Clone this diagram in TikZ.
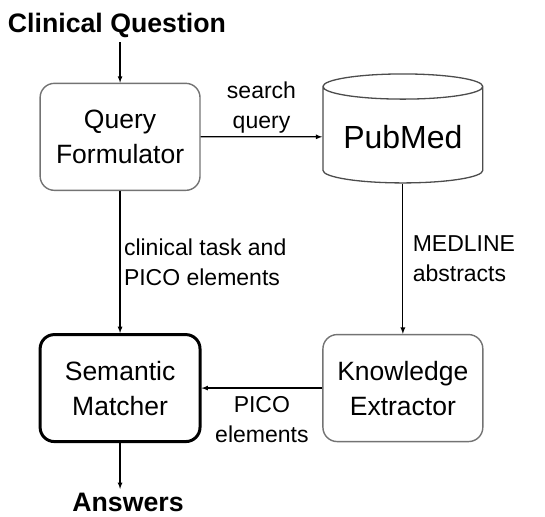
\documentclass[tikz,border=0pt]{standalone}
\usepackage{fontspec}
\setmainfont{Liberation Sans}
\usetikzlibrary{shapes.geometric,positioning}

\tikzset{
	module/.style={draw=black!55, line width=1.4pt, rounded corners=0.5cm,
		minimum width=5.62cm, minimum height=3.76cm, align=center,
		font=\fontsize{26.5}{35}\selectfont},
	core/.style={module, draw=black, line width=3pt},
	database/.style={cylinder, shape border rotate=90, aspect=0.2, draw=black!70,
		line width=1.3pt, minimum width=5.62cm, minimum height=3.83cm,
		font=\fontsize{32}{38}\selectfont},
	io/.style={font=\fontsize{26.7}{32}\selectfont\bfseries},
	flow/.style={font=\fontsize{23}{30}\selectfont, align=left}
}

\begin{document}
\begin{tikzpicture}[>=latex, line width=1.2pt]
		\useasboundingbox (0,0) rectangle (19.155,18.17);
		
		\node[io, anchor=base] (question) at (4.11,17.01) {Clinical Question};
		\node[module] (formulator) at (4.22,13.36) {Query\\Formulator};
		\node[database] (pubmed) at (14.16,13.36) {PubMed};
		\node[core] (matcher) at (4.22,4.53) {Semantic\\Matcher};
		\node[module] (extractor) at (14.16,4.53) {Knowledge\\Extractor};
		\node[io, anchor=base] (answers) at (4.50,0.2) {Answers};
		
		\draw[->] (formulator.north |- question.south) -- (formulator);
		\draw[->] (formulator) -- node[flow, above, align=center] {search\\query} (pubmed);
		\draw[->] (formulator) -- node[flow, right] {clinical task and\\PICO elements} (matcher);
		\draw[->] (pubmed) -- node[flow, right, xshift=6pt] {MEDLINE\\abstracts} (extractor);
		\draw[->] (extractor) -- node[flow, below, align=center, yshift=-4pt] {PICO\\elements} (matcher);
		\draw[->] (matcher) -- (matcher.south |- answers.north);
		\end{tikzpicture}
\end{document}
